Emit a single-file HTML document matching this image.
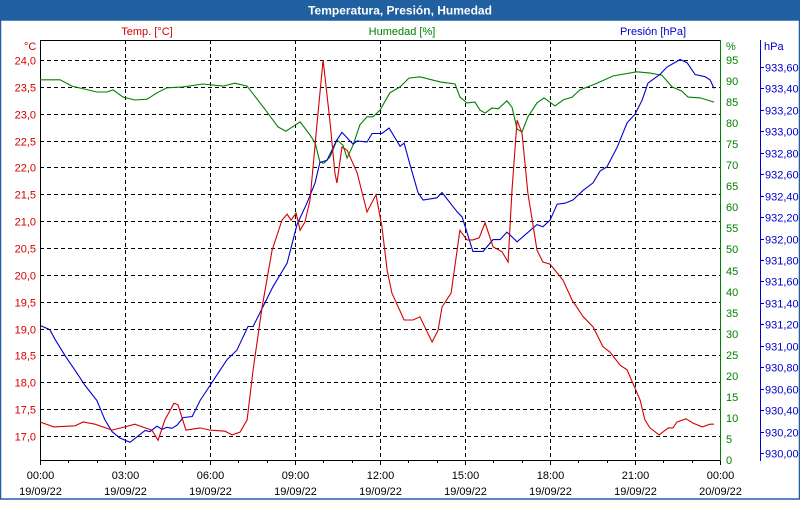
<!DOCTYPE html>
<html><head><meta charset="utf-8"><style>
body{margin:0;width:800px;height:500px;overflow:hidden;background:#fff;font-family:"Liberation Sans",sans-serif}
</style></head><body>
<svg id="chart" width="800" height="500" xmlns="http://www.w3.org/2000/svg" font-family="Liberation Sans, sans-serif" font-size="11">
<rect x="0" y="0" width="800" height="500" fill="#fff"/>
<rect x="0" y="0" width="800" height="20" fill="#2160a0"/>
<text x="400" y="14.5" text-anchor="middle" fill="#fff" font-weight="bold" font-size="12">Temperatura, Presión, Humedad</text>
<rect x="0.5" y="20" width="799" height="479" fill="none" stroke="#2160a0" stroke-width="1.5"/>
<g id="grid"></g>
<g id="axes"></g>
<g id="series"></g>
</svg>
<script>
const hours = [0,3,6,9,12,15,18,21,24];
const xDates = ["19/09/22","19/09/22","19/09/22","19/09/22","19/09/22","19/09/22","19/09/22","19/09/22","20/09/22"];
const xTimes = ["00:00","03:00","06:00","09:00","12:00","15:00","18:00","21:00","00:00"];
const tempTicks = [17.0,17.5,18.0,18.5,19.0,19.5,20.0,20.5,21.0,21.5,22.0,22.5,23.0,23.5,24.0];
const humTicks = [0,5,10,15,20,25,30,35,40,45,50,55,60,65,70,75,80,85,90,95];
const presTicks = [930.0,930.2,930.4,930.6,930.8,931.0,931.2,931.4,931.6,931.8,932.0,932.2,932.4,932.6,932.8,933.0,933.2,933.4,933.6];

const tempT = [0,0.49,1.24,1.52,1.94,2.54,3.0,3.35,3.71,3.95,4.17,4.41,4.73,4.87,5.15,5.65,6.0,6.53,6.78,7.06,7.31,7.52,7.84,8.19,8.54,8.72,8.86,9.04,9.18,9.35,9.53,9.78,9.99,10.24,10.41,10.48,10.66,10.84,11.19,11.54,11.86,12.07,12.25,12.42,12.85,13.17,13.41,13.84,14.05,14.19,14.51,14.82,15.07,15.28,15.5,15.71,15.99,16.31,16.52,16.66,16.84,17.01,17.22,17.54,17.75,18.0,18.46,18.78,19.17,19.52,19.87,20.12,20.47,20.72,21.18,21.35,21.53,21.85,22.17,22.34,22.48,22.8,23.05,23.37,23.65,23.79];
const tempV = [17.26,17.17,17.19,17.26,17.22,17.11,17.17,17.22,17.15,17.11,16.92,17.3,17.61,17.58,17.11,17.15,17.11,17.09,17.02,17.07,17.3,18.23,19.4,20.46,21.02,21.13,21.02,21.15,20.83,20.98,21.39,22.83,24.0,22.83,21.9,21.71,22.38,22.32,21.9,21.17,21.49,20.89,20.09,19.66,19.16,19.16,19.22,18.75,18.97,19.4,19.66,20.83,20.65,20.65,20.69,20.97,20.52,20.43,20.24,21.58,22.88,22.64,21.52,20.46,20.24,20.2,19.9,19.53,19.22,19.03,18.66,18.56,18.32,18.23,17.67,17.3,17.15,17.02,17.15,17.15,17.26,17.32,17.24,17.17,17.22,17.22];

const humT = [0,0.71,1.13,2.01,2.36,2.58,2.93,3.35,3.78,4.13,4.48,5.05,5.75,6.46,6.88,7.31,8.01,8.4,8.68,9.18,9.53,9.71,9.88,10.02,10.24,10.48,10.69,10.84,11.05,11.29,11.54,11.75,12.0,12.35,12.71,13.02,13.41,14.12,14.65,14.82,15.07,15.35,15.53,15.71,15.95,16.17,16.48,16.66,16.84,17.01,17.22,17.54,17.79,18.18,18.46,18.78,19.06,19.66,20.22,21.07,21.53,21.95,22.31,22.66,22.87,23.3,23.79];
const humV = [90.3,90.3,88.8,87.4,87.4,87.9,86.2,85.5,85.7,87.2,88.4,88.6,89.3,88.8,89.5,88.8,82.7,79.1,78.1,80.3,77.2,75.3,70.8,70.5,72.0,76.0,74.8,71.7,74.8,79.6,81.5,81.5,83.1,87.2,88.6,90.7,91.0,89.8,89.3,86.2,84.8,85.0,83.1,82.4,83.6,83.4,85.3,83.8,78.6,77.9,81.5,84.8,86.0,84.1,85.5,86.2,87.9,89.5,91.2,92.2,91.9,91.4,88.6,87.6,86.2,86.0,85.0];

const presT = [0,0.35,0.53,0.88,1.24,1.59,2.01,2.29,2.54,2.82,3.18,3.42,3.71,3.88,4.13,4.31,4.48,4.66,4.84,5.05,5.37,5.65,6.0,6.35,6.6,6.95,7.34,7.52,7.77,8.22,8.72,9.07,9.42,9.71,9.88,10.13,10.48,10.66,11.05,11.19,11.54,11.72,12.07,12.32,12.71,12.85,13.06,13.34,13.52,14.01,14.19,14.72,14.9,15.28,15.64,15.99,16.24,16.48,16.84,17.19,17.54,17.75,18.0,18.25,18.53,18.81,19.17,19.52,19.77,20.01,20.37,20.72,21.0,21.25,21.46,21.88,22.13,22.59,22.84,23.12,23.47,23.65,23.79];
const presV = [931.19,931.15,931.06,930.91,930.77,930.63,930.49,930.31,930.2,930.14,930.1,930.15,930.21,930.2,930.25,930.22,930.24,930.23,930.26,930.33,930.34,930.49,930.63,930.77,930.87,930.96,931.18,931.18,931.31,931.55,931.77,932.13,932.33,932.52,932.71,932.73,932.92,932.99,932.88,932.91,932.9,932.98,932.98,933.03,932.86,932.89,932.69,932.43,932.36,932.38,932.43,932.25,932.2,931.88,931.88,931.99,931.99,932.06,931.97,932.05,932.13,932.11,932.17,932.32,932.33,932.36,932.45,932.52,932.63,932.67,932.85,933.08,933.16,933.29,933.45,933.53,933.6,933.67,933.64,933.53,933.51,933.48,933.4];

const L=40,R=720,T=40,B=460;
const xS = h => L + (h/24)*(R-L);
const yTemp = v => 60 + (24 - v)*(436-60)/7;
const yHum = v => 460 - v*(400/95);
const yPres = v => 453 - (v-930)*(453-67)/3.6;
const NS="http://www.w3.org/2000/svg";
function mk(tag, attrs, parent){const e=document.createElementNS(NS,tag);for(const k in attrs)e.setAttribute(k,attrs[k]);parent.appendChild(e);return e;}
const grid=document.getElementById('grid'), axes=document.getElementById('axes'), series=document.getElementById('series');
const RED="#d40000", GREEN="#008000", BLUE="#0000cc";
const fmt=(v,d)=>v.toFixed(d).replace('.',',');

tempTicks.forEach(v=>{
  const y=Math.round(yTemp(v))+0.5;
  const g=mk('line',{x1:L,x2:R,y1:y,y2:y,stroke:'#000','stroke-dasharray':'4,3'},grid);
  
  
  const t=mk('text',{x:36,y:y+4,'text-anchor':'end',fill:RED},axes);
  
  
  t.textContent=fmt(v,1);
});
hours.forEach((h,i)=>{
  const x=Math.round(xS(h))+0.5;
  if(i>0&&i<hours.length-1){
    const g=mk('line',{x1:x,x2:x,y1:T,y2:B,stroke:'#000','stroke-dasharray':'4,3'},grid);
    
    
  }
  const t1=mk('text',{x:x,y:479,'text-anchor':'middle',fill:'#000'},axes);
  
  
  t1.textContent=xTimes[i];
  const t2=mk('text',{x:x,y:495,'text-anchor':'middle',fill:'#000'},axes);
  
  
  t2.textContent=xDates[i];
});
for(let h=0;h<=24;h++){
  const x=Math.round(xS(h))+0.5;
  const tk=mk('line',{x1:x,x2:x,y1:B,y2:B+(h%3===0?5:3),stroke:'#000'},axes);
  
  
}
humTicks.forEach(v=>{
  const y=Math.round(yHum(v));
  const t=mk('text',{x:726,y:y+4,fill:GREEN},axes);
  
  
  t.textContent=String(v);
});
presTicks.forEach(v=>{
  const y=Math.round(yPres(v))+0.5;
  const tk=mk('line',{x1:760,x2:764,y1:y,y2:y,stroke:BLUE},axes);
  
  
  const t=mk('text',{x:765,y:y+4,fill:BLUE},axes);
  
  
  t.textContent=fmt(v,2);
});
// frame
let a;
a=mk('line',{x1:L+0.5,x2:L+0.5,y1:T,y2:B,stroke:'#000'},axes);
a=mk('line',{x1:L,x2:R,y1:T+0.5,y2:T+0.5,stroke:'#000'},axes);
a=mk('line',{x1:L,x2:R,y1:B+0.5,y2:B+0.5,stroke:'#000'},axes);
a=mk('line',{x1:R+0.5,x2:R+0.5,y1:T,y2:B+1,stroke:GREEN},axes);
a=mk('line',{x1:760.5,x2:760.5,y1:T,y2:B+1,stroke:BLUE},axes);
const labs=[["°C",24,50,RED,'end','temp-unit'],["%",726,50,GREEN,'start','humidity-unit'],["hPa",764,50,BLUE,'start','pressure-unit'],
["Temp. [°C]",147,35,RED,'middle','temp-series-label'],["Humedad [%]",402,35,GREEN,'middle','humidity-series-label'],["Presión [hPa]",653,35,BLUE,'middle','pressure-series-label']];
labs.forEach(l=>{
  const t=mk('text',{x:l[1],y:l[2],fill:l[3],'text-anchor':l[4]==='end'?'start':l[4]},axes);
  
  
  t.textContent=l[0];
});
function line(ts,vs,yf,color,name){
  const d=ts.map((h,i)=>(i?'L':'M')+xS(h).toFixed(1)+','+yf(vs[i]).toFixed(1)).join('');
  const p=mk('path',{d:d,fill:'none',stroke:color,'stroke-width':1.1},series);
  
  
}
line(humT,humV,yHum,GREEN,'humidity-line');
line(presT,presV,yPres,BLUE,'pressure-line');
line(tempT,tempV,yTemp,RED,'temperature-line');
</script>
</body></html>
